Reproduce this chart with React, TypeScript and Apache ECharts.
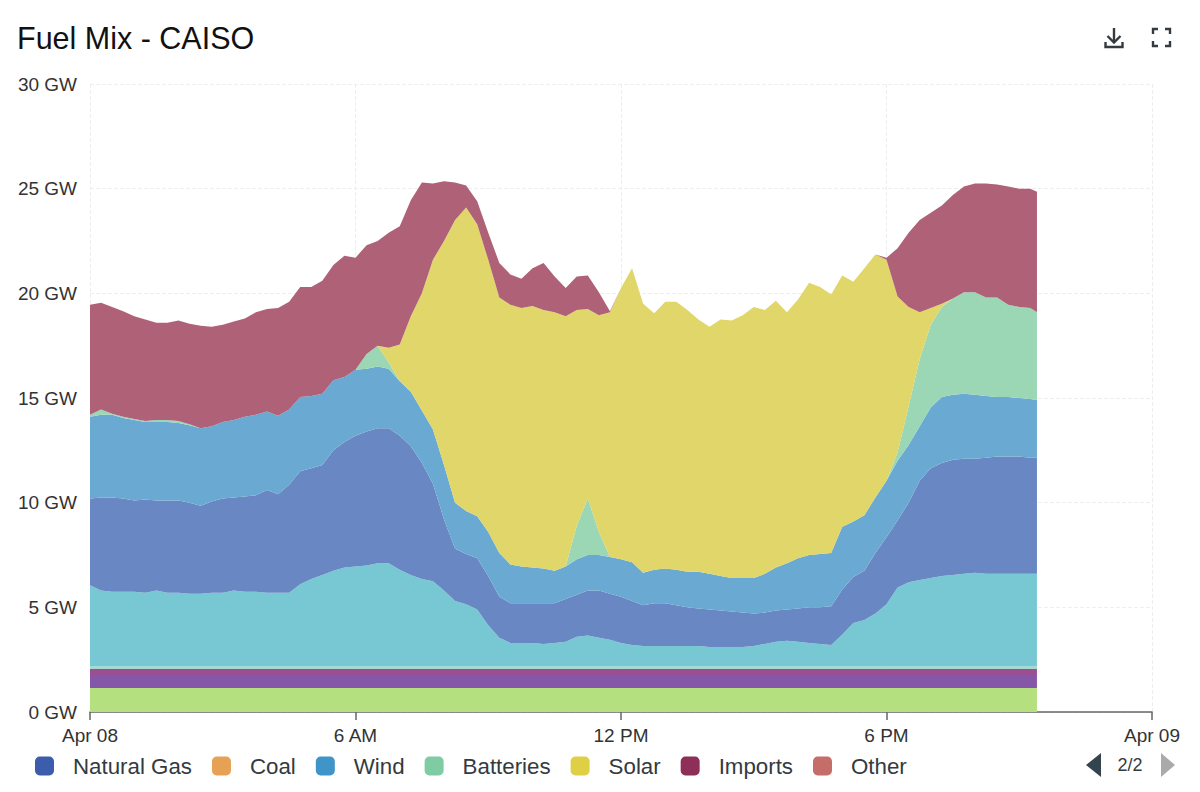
import React, { useEffect, useRef } from "react";
import * as echarts from "echarts";

const FONT = '"Liberation Sans", Arial, sans-serif';

const yTickLabels = ["0 GW", "5 GW", "10 GW", "15 GW", "20 GW", "25 GW", "30 GW"];
const xTickLabels = ["Apr 08", "6 AM", "12 PM", "6 PM", "Apr 09"];
const legendNames = ["Natural Gas", "Coal", "Wind", "Batteries", "Solar", "Imports", "Other"];

// Hours since Apr 08 00:00
const hours = [
  0, 0.25, 0.5, 0.75, 1, 1.25, 1.5, 1.75, 2, 2.25, 2.5, 2.75, 3, 3.25, 3.5, 3.75, 4, 4.25, 4.5, 4.75,
  5, 5.25, 5.5, 5.75, 6, 6.25, 6.5, 6.75, 7, 7.25, 7.5, 7.75, 8, 8.25, 8.5, 8.75, 9, 9.25, 9.5, 9.75,
  10, 10.25, 10.5, 10.75, 11, 11.25, 11.5, 11.75, 12, 12.25, 12.5, 12.75, 13, 13.25, 13.5, 13.75, 14, 14.25, 14.5, 14.75,
  15, 15.25, 15.5, 15.75, 16, 16.25, 16.5, 16.75, 17, 17.25, 17.5, 17.75, 18, 18.25, 18.5, 18.75, 19, 19.25, 19.5, 19.75,
  20, 20.25, 20.5, 20.75, 21, 21.25, 21.4,
];

// Upper edge of each band, GW
const greenTop = [
  1.15, 1.15, 1.15, 1.15, 1.15, 1.15, 1.15, 1.15, 1.15, 1.15, 1.15, 1.15, 1.15, 1.15, 1.15, 1.15, 1.15, 1.15, 1.15, 1.15,
  1.15, 1.15, 1.15, 1.15, 1.15, 1.15, 1.15, 1.15, 1.15, 1.15, 1.15, 1.15, 1.15, 1.15, 1.15, 1.15, 1.15, 1.15, 1.15, 1.15,
  1.15, 1.15, 1.15, 1.15, 1.15, 1.15, 1.15, 1.15, 1.15, 1.15, 1.15, 1.15, 1.15, 1.15, 1.15, 1.15, 1.15, 1.15, 1.15, 1.15,
  1.15, 1.15, 1.15, 1.15, 1.15, 1.15, 1.15, 1.15, 1.15, 1.15, 1.15, 1.15, 1.15, 1.15, 1.15, 1.15, 1.15, 1.15, 1.15, 1.15,
  1.15, 1.15, 1.15, 1.15, 1.15, 1.15, 1.15,
];
const purpleTop = [
  1.77, 1.77, 1.77, 1.77, 1.77, 1.77, 1.77, 1.77, 1.77, 1.77, 1.77, 1.77, 1.77, 1.77, 1.77, 1.77, 1.77, 1.77, 1.77, 1.77,
  1.77, 1.77, 1.77, 1.77, 1.77, 1.77, 1.77, 1.77, 1.77, 1.77, 1.77, 1.77, 1.77, 1.77, 1.77, 1.77, 1.77, 1.77, 1.77, 1.77,
  1.77, 1.77, 1.77, 1.77, 1.77, 1.77, 1.77, 1.77, 1.77, 1.77, 1.77, 1.77, 1.77, 1.77, 1.77, 1.77, 1.77, 1.77, 1.77, 1.77,
  1.77, 1.77, 1.77, 1.77, 1.77, 1.77, 1.77, 1.77, 1.77, 1.77, 1.77, 1.77, 1.77, 1.77, 1.77, 1.77, 1.77, 1.77, 1.77, 1.77,
  1.77, 1.77, 1.77, 1.77, 1.77, 1.77, 1.77,
];
const magentaTop = [
  2.05, 2.05, 2.05, 2.05, 2.05, 2.05, 2.05, 2.05, 2.05, 2.05, 2.05, 2.05, 2.05, 2.05, 2.05, 2.05, 2.05, 2.05, 2.05, 2.05,
  2.05, 2.05, 2.05, 2.05, 2.05, 2.05, 2.05, 2.05, 2.05, 2.05, 2.05, 2.05, 2.05, 2.05, 2.05, 2.05, 2.05, 2.05, 2.05, 2.05,
  2.05, 2.05, 2.05, 2.05, 2.05, 2.05, 2.05, 2.05, 2.05, 2.05, 2.05, 2.05, 2.05, 2.05, 2.05, 2.05, 2.05, 2.05, 2.05, 2.05,
  2.05, 2.05, 2.05, 2.05, 2.05, 2.05, 2.05, 2.05, 2.05, 2.05, 2.05, 2.05, 2.05, 2.05, 2.05, 2.05, 2.05, 2.05, 2.05, 2.05,
  2.05, 2.05, 2.05, 2.05, 2.05, 2.05, 2.05,
];
const paleTop = [
  2.17, 2.17, 2.17, 2.17, 2.17, 2.17, 2.17, 2.17, 2.17, 2.17, 2.17, 2.17, 2.17, 2.17, 2.17, 2.17, 2.17, 2.17, 2.17, 2.17,
  2.17, 2.17, 2.17, 2.17, 2.17, 2.17, 2.17, 2.17, 2.17, 2.17, 2.17, 2.17, 2.17, 2.17, 2.17, 2.17, 2.17, 2.17, 2.17, 2.17,
  2.17, 2.17, 2.17, 2.17, 2.17, 2.17, 2.17, 2.17, 2.17, 2.17, 2.17, 2.17, 2.17, 2.17, 2.17, 2.17, 2.17, 2.17, 2.17, 2.17,
  2.17, 2.17, 2.17, 2.17, 2.17, 2.17, 2.17, 2.17, 2.17, 2.17, 2.17, 2.17, 2.17, 2.17, 2.17, 2.17, 2.17, 2.17, 2.17, 2.17,
  2.17, 2.17, 2.17, 2.17, 2.17, 2.17, 2.17,
];
const tealTop = [
  6.05, 5.8, 5.75, 5.75, 5.75, 5.7, 5.8, 5.7, 5.7, 5.65,
  5.65, 5.7, 5.7, 5.8, 5.75, 5.75, 5.7, 5.7, 5.7, 6.1,
  6.35, 6.55, 6.75, 6.9, 6.95, 7.0, 7.1, 7.1, 6.8, 6.55,
  6.35, 6.25, 5.8, 5.3, 5.15, 4.9, 4.15, 3.55, 3.3, 3.3,
  3.3, 3.25, 3.3, 3.35, 3.6, 3.65, 3.55, 3.45, 3.3, 3.2,
  3.15, 3.15, 3.15, 3.15, 3.15, 3.15, 3.1, 3.1, 3.1, 3.1,
  3.15, 3.25, 3.35, 3.4, 3.35, 3.3, 3.25, 3.2, 3.7, 4.25,
  4.4, 4.7, 5.15, 5.95, 6.2, 6.3, 6.4, 6.5, 6.55, 6.6,
  6.65, 6.6, 6.6, 6.6, 6.6, 6.6, 6.6,
];
const gasTop = [
  10.2, 10.25, 10.25, 10.2, 10.1, 10.15, 10.1, 10.1, 10.1, 10.0,
  9.85, 10.05, 10.2, 10.25, 10.3, 10.35, 10.6, 10.4, 10.85, 11.5,
  11.65, 11.8, 12.5, 12.9, 13.2, 13.4, 13.55, 13.55, 13.2, 12.7,
  11.9, 10.9, 9.2, 7.8, 7.55, 7.35, 6.5, 5.5, 5.2, 5.2,
  5.2, 5.2, 5.2, 5.4, 5.6, 5.8, 5.8, 5.65, 5.5, 5.3,
  5.1, 5.2, 5.2, 5.1, 5.0, 4.95, 4.9, 4.85, 4.8, 4.75,
  4.7, 4.75, 4.85, 4.9, 4.95, 5.0, 5.0, 5.05, 5.85, 6.45,
  6.75, 7.6, 8.35, 9.15, 10.0, 11.05, 11.65, 11.9, 12.05, 12.1,
  12.1, 12.15, 12.2, 12.2, 12.2, 12.15, 12.15,
];
const windTop = [
  14.1, 14.2, 14.2, 14.05, 13.95, 13.85, 13.85, 13.85, 13.8, 13.7,
  13.55, 13.65, 13.85, 13.95, 14.1, 14.2, 14.35, 14.15, 14.45, 15.05,
  15.1, 15.2, 15.85, 16.0, 16.35, 16.4, 16.5, 16.4, 15.8, 15.3,
  14.4, 13.5, 11.8, 10.0, 9.6, 9.35, 8.6, 7.6, 7.05, 6.95,
  6.9, 6.85, 6.75, 6.95, 7.3, 7.5, 7.5, 7.4, 7.3, 7.15,
  6.65, 6.8, 6.85, 6.8, 6.7, 6.7, 6.6, 6.5, 6.4, 6.4,
  6.4, 6.6, 6.9, 7.1, 7.35, 7.5, 7.55, 7.6, 8.85, 9.1,
  9.4, 10.25, 11.05, 12.0, 12.75, 13.65, 14.55, 15.05, 15.15, 15.2,
  15.15, 15.1, 15.05, 15.05, 15.0, 14.95, 14.9,
];
const batteriesTop = [
  14.2, 14.45, 14.25, 14.1, 14.0, 13.9, 13.95, 13.95, 13.9, 13.75,
  13.55, 13.65, 13.85, 13.95, 14.1, 14.2, 14.35, 14.15, 14.45, 15.05,
  15.1, 15.2, 15.85, 16.0, 16.35, 17.1, 17.5, 16.7, 15.8, 15.3,
  14.4, 13.5, 11.8, 10.0, 9.6, 9.35, 8.6, 7.6, 7.05, 6.95,
  6.9, 6.85, 6.75, 6.95, 8.9, 10.2, 8.6, 7.4, 7.3, 7.15,
  6.65, 6.8, 6.85, 6.8, 6.7, 6.7, 6.6, 6.5, 6.4, 6.4,
  6.4, 6.6, 6.9, 7.1, 7.35, 7.5, 7.55, 7.6, 8.85, 9.1,
  9.4, 10.25, 11.05, 12.4, 14.6, 16.85, 18.5, 19.35, 19.75, 20.05,
  20.05, 19.8, 19.8, 19.45, 19.35, 19.3, 19.1,
];
const solarTop = [
  14.2, 14.45, 14.25, 14.1, 14.0, 13.9, 13.95, 13.95, 13.9, 13.75,
  13.55, 13.65, 13.85, 13.95, 14.1, 14.2, 14.35, 14.15, 14.45, 15.05,
  15.1, 15.2, 15.85, 16.0, 16.35, 17.1, 17.5, 17.4, 17.55, 18.9,
  20.0, 21.6, 22.5, 23.5, 24.1, 23.3, 21.6, 19.8, 19.45, 19.3,
  19.4, 19.2, 19.1, 18.9, 19.2, 19.25, 18.95, 19.1, 20.25, 21.2,
  19.5, 19.05, 19.6, 19.6, 19.2, 18.75, 18.4, 18.75, 18.7, 18.95,
  19.35, 19.2, 19.65, 19.1, 19.7, 20.5, 20.3, 19.95, 20.85, 20.55,
  21.2, 21.85, 21.6, 19.85, 19.35, 19.1, 19.3, 19.5, 19.75, 20.05,
  20.05, 19.8, 19.8, 19.45, 19.35, 19.3, 19.1,
];
const importsTop = [
  19.45, 19.55, 19.35, 19.15, 18.9, 18.75, 18.6, 18.6, 18.7, 18.55,
  18.45, 18.4, 18.5, 18.65, 18.8, 19.1, 19.25, 19.3, 19.6, 20.3,
  20.3, 20.6, 21.35, 21.8, 21.7, 22.3, 22.5, 22.9, 23.2, 24.45,
  25.3, 25.25, 25.35, 25.3, 25.15, 24.4, 22.9, 21.45, 20.9, 20.7,
  21.2, 21.45, 20.8, 20.25, 20.8, 20.85, 20.05, 19.15, 20.25, 21.2,
  19.5, 19.05, 19.6, 19.6, 19.2, 18.75, 18.4, 18.75, 18.7, 18.95,
  19.35, 19.2, 19.65, 19.1, 19.7, 20.5, 20.3, 19.95, 20.85, 20.55,
  21.2, 21.85, 21.7, 22.15, 22.9, 23.5, 23.85, 24.2, 24.7, 25.1,
  25.25, 25.25, 25.2, 25.1, 25.0, 25.0, 24.85,
];

// Each datum is [GW, hour]: the first dimension is the one ECharts stacks.
const band = (top: number[], below?: number[]) =>
  hours.map((h, i) => [+(top[i] - (below ? below[i] : 0)).toFixed(2), h]);

function stacked(name: string, itemColor: string, areaColor: string, data: number[][]) {
  return {
    name,
    type: "line",
    stack: "fuel",
    encode: { x: 1, y: 0 },
    showSymbol: false,
    symbol: "none",
    silent: true,
    lineStyle: { width: 0 },
    itemStyle: { color: itemColor },
    areaStyle: { color: areaColor, opacity: 1 },
    data,
  };
}

export default function App() {
  const ref = useRef<HTMLDivElement>(null);
  useEffect(() => {
    document.body.style.margin = "0";
    const chart = echarts.init(ref.current!, undefined, { renderer: "svg" });
    const ink = "#333a40";
    chart.setOption({
      animation: false,
      backgroundColor: "#ffffff",
      textStyle: { fontFamily: FONT },
      title: {
        text: "Fuel Mix - CAISO",
        left: 12,
        top: 17,
        textStyle: { fontFamily: FONT, fontSize: 30.5, fontWeight: "normal", color: "#111111" },
      },
      grid: { left: 90, right: 48, top: 84, bottom: 80, containLabel: false },
      xAxis: {
        type: "value",
        min: 0,
        max: 24,
        interval: 6,
        axisLine: { lineStyle: { color: "#666666", width: 1.5 } },
        axisTick: { show: true, length: 8, lineStyle: { color: "#666666", width: 1.5 } },
        minorTick: { show: false },
        axisLabel: {
          fontFamily: FONT,
          fontSize: 19,
          color: "#333333",
          margin: 14,
          showMinLabel: true,
          showMaxLabel: true,
          formatter: (v: number) => xTickLabels[v / 6] ?? "",
        },
        splitLine: { show: true, lineStyle: { color: "#eeeeee", type: "dashed", width: 1 } },
      },
      yAxis: {
        type: "value",
        min: 0,
        max: 30,
        interval: 5,
        axisLine: { show: false },
        axisTick: { show: false },
        axisLabel: {
          fontFamily: FONT,
          fontSize: 19,
          color: "#333333",
          margin: 13,
          formatter: (v: number) => yTickLabels[v / 5],
        },
        splitLine: { show: true, lineStyle: { color: "#eeeeee", type: "dashed", width: 1 } },
      },
      legend: {
        data: legendNames,
        left: 30,
        top: 750,
        itemWidth: 19,
        itemHeight: 19,
        itemGap: 20,
        icon: "roundRect",
        selectedMode: false,
        textStyle: {
          fontFamily: FONT,
          fontSize: 22.3,
          color: "#333a40",
          padding: [0, 0, 0, 14],
        },
      },
      series: [
        stacked("band a", "#b5e07f", "#b5e07f", band(greenTop)),
        stacked("band b", "#8557a8", "#8557a8", band(purpleTop, greenTop)),
        stacked("band c", "#9b4f92", "#9b4f92", band(magentaTop, purpleTop)),
        stacked("band d", "#a6dcc6", "#a6dcc6", band(paleTop, magentaTop)),
        stacked("band e", "#78c8d4", "#78c8d4", band(tealTop, paleTop)),
        stacked("Natural Gas", "#3c5dab", "#6887c3", band(gasTop, tealTop)),
        stacked("Coal", "#e6a155", "#e6a155", []),
        stacked("Wind", "#4095c8", "#69a9d2", band(windTop, gasTop)),
        stacked("Batteries", "#7fcca4", "#9bd6b5", band(batteriesTop, windTop)),
        stacked("Solar", "#dfcf45", "#e0d669", band(solarTop, batteriesTop)),
        stacked("Imports", "#8d2f57", "#ae6177", band(importsTop, solarTop)),
        stacked("Other", "#c56d69", "#c56d69", []),
      ],
      graphic: [
        { type: "polygon", shape: { points: [[1101, 753], [1101, 777], [1086, 765]] }, style: { fill: "#33444f" } },
        { type: "polygon", shape: { points: [[1161, 753], [1161, 777], [1175, 765]] }, style: { fill: "#aaaaaa" } },
        {
          type: "text",
          x: 1130,
          y: 765,
          style: {
            text: "2/2",
            fontFamily: FONT,
            fontSize: 18,
            fill: "#333a40",
            textAlign: "center",
            textVerticalAlign: "middle",
          },
        },
        { type: "line", shape: { x1: 1114, y1: 28, x2: 1114, y2: 42 }, style: { stroke: ink, lineWidth: 2.4 } },
        { type: "polyline", shape: { points: [[1107.5, 36], [1114, 42.5], [1120.5, 36]] }, style: { stroke: ink, lineWidth: 2.4, fill: "none" } },
        { type: "polyline", shape: { points: [[1105.5, 42], [1105.5, 47], [1122.5, 47], [1122.5, 42]] }, style: { stroke: ink, lineWidth: 2.4, fill: "none" } },
        { type: "polyline", shape: { points: [[1153, 34], [1153, 29], [1158, 29]] }, style: { stroke: ink, lineWidth: 2.4, fill: "none" } },
        { type: "polyline", shape: { points: [[1165, 29], [1170, 29], [1170, 34]] }, style: { stroke: ink, lineWidth: 2.4, fill: "none" } },
        { type: "polyline", shape: { points: [[1153, 41], [1153, 46], [1158, 46]] }, style: { stroke: ink, lineWidth: 2.4, fill: "none" } },
        { type: "polyline", shape: { points: [[1165, 46], [1170, 46], [1170, 41]] }, style: { stroke: ink, lineWidth: 2.4, fill: "none" } },
      ],
    });
    return () => chart.dispose();
  }, []);
  return <div ref={ref} style={{ position: "absolute", left: 0, top: 0, width: 1200, height: 792 }} />;
}
